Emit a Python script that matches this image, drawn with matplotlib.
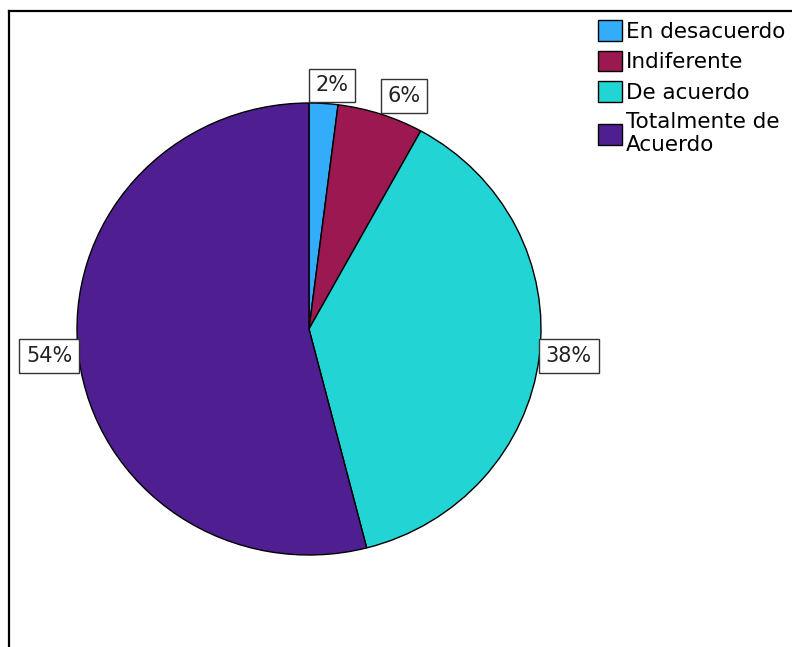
import numpy as np
import matplotlib
matplotlib.use("Agg")
import matplotlib.pyplot as plt
from matplotlib.lines import Line2D
from matplotlib.patches import Patch

# answers to the survey item (counts out of 50)
categories = ["En desacuerdo", "Indiferente", "De acuerdo", "Totalmente de\nAcuerdo"]
counts = [1, 3, 19, 27]
colors = ["#33acfa", "#9c1850", "#22d4d4", "#4f1f91"]

W, H = 792, 647
fig = plt.figure(figsize=(W / 100, H / 100), dpi=100)

# pie axes placed in pixel terms (slightly wider than tall)
left, right, top, bottom = 77, 541, 103, 555
ax = fig.add_axes([left / W, (H - bottom) / H, (right - left) / W, (bottom - top) / H])

wedges, _ = ax.pie(counts, colors=colors, startangle=90, counterclock=False,
                   radius=1, wedgeprops=dict(edgecolor="black", linewidth=1))
ax.set_xlim(-1, 1)
ax.set_ylim(-1, 1)
ax.set_aspect("auto")
ax.axis("off")

fs, pad = 15, 0.32
off = fs * pad  # box padding in points, so the box edge sits on the anchor
total = sum(counts)
for w, c in zip(wedges, counts):
    ang = np.deg2rad((w.theta1 + w.theta2) / 2)
    x, y = np.cos(ang), np.sin(ang)
    ha = "left" if x > 0 else "right"
    va = "bottom" if y > 0.5 else "center"
    if x > 0 and y > 0.99:
        x = 0.0
    dx = off if x >= 0 else -off
    dy = off + 1 if va == "bottom" else 1
    ax.annotate(f"{round(100 * c / total)}%", (x, y), xytext=(dx, dy),
                textcoords="offset points", ha=ha, va=va, fontsize=fs,
                color="#222222",
                bbox=dict(boxstyle=f"square,pad={pad}", facecolor="white",
                          edgecolor="#333333", linewidth=1))

handles = [Patch(facecolor=col, edgecolor="black", linewidth=1) for col in colors]
fig.legend(handles, categories, loc="upper left", bbox_to_anchor=(598 / W, 1 - 20 / H),
           frameon=False, fontsize=15.5, handlelength=1.1, handleheight=1.1,
           handletextpad=0.2, labelspacing=0.42, borderpad=0, borderaxespad=0)

# outer frame (top and left edges)
fig.add_artist(Line2D([8.5 / W, 1], [1 - 10.5 / H, 1 - 10.5 / H], color="black",
                      linewidth=1.6, transform=fig.transFigure))
fig.add_artist(Line2D([8.5 / W, 8.5 / W], [0, 1 - 10.5 / H], color="black",
                      linewidth=1.6, transform=fig.transFigure))

fig.savefig("out.png", dpi=100, facecolor="white")
